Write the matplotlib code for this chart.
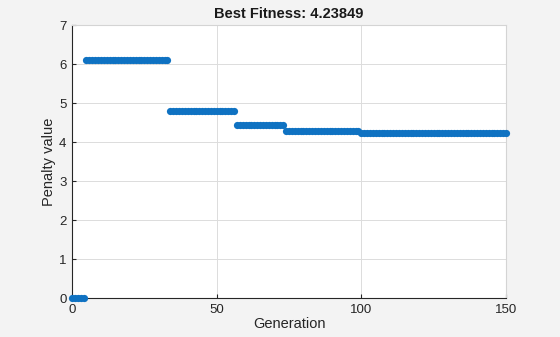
import matplotlib
matplotlib.use("Agg")
import matplotlib.pyplot as plt
import numpy as np

plt.rcParams['font.family'] = ['Liberation Sans', 'DejaVu Sans']

# Stepwise best-fitness levels: (first generation, last generation, value)
seg_start = [0, 5, 34, 57, 74, 100]
seg_end = [4, 33, 56, 73, 99, 150]
seg_value = [0.0, 6.1, 4.8, 4.43, 4.29, 4.23849]

generations = []
penalty = []
for s, e, v in zip(seg_start, seg_end, seg_value):
    for g in range(s, e + 1):
        generations.append(g)
        penalty.append(v)

xticks = [0, 50, 100, 150]
yticks = [0, 1, 2, 3, 4, 5, 6, 7]

fig = plt.figure(figsize=(5.6, 3.37), dpi=100, facecolor='#f3f3f3')
ax = fig.add_axes([0.1286, 0.1157, 0.775, 0.8101])
ax.set_facecolor('white')

ax.plot(generations, penalty, linestyle='none', marker='o', markersize=5.2,
        color='#0F72C2', markeredgewidth=0, clip_on=False, zorder=3)

ax.set_xlim(0, 150)
ax.set_ylim(0, 7)
ax.set_xticks(xticks)
ax.set_yticks(yticks)
ax.grid(True, color='#dcdcdc', linewidth=0.7)
ax.set_axisbelow(True)

for side in ['top', 'right']:
    ax.spines[side].set_color('#d4d4d4')
for side in ['left', 'bottom']:
    ax.spines[side].set_color('#262626')
for sp in ax.spines.values():
    sp.set_linewidth(0.8)
    sp.set_zorder(2)

ax.tick_params(direction='in', length=3, width=0.8, colors='#262626',
               labelsize=9.5, pad=4)

ax.set_xlabel('Generation', fontsize=10.5, color='#262626', labelpad=1)
ax.set_ylabel('Penalty value', fontsize=10.5, color='#262626', labelpad=2)
ax.set_title('Best Fitness: 4.23849', fontsize=10.5, fontweight='bold',
             color='#1a1a1a', pad=5)

fig.savefig('out.png', dpi=100, facecolor=fig.get_facecolor())
